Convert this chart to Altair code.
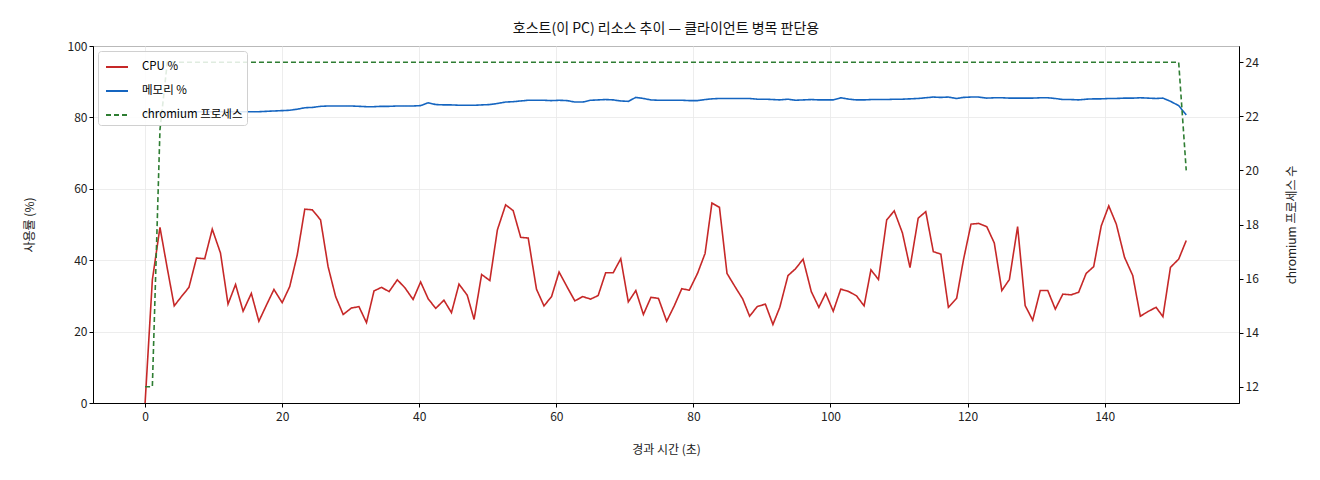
import altair as alt
import pandas as pd

T = [0, 1.06, 2.17, 3.24, 4.25, 5.3, 6.4, 7.5, 8.7, 9.8, 11.0, 12.1, 13.2, 14.3, 15.5, 16.6, 17.7, 18.8, 20.0,
     21.1, 22.2, 23.3, 24.4, 25.6, 26.7, 27.8, 28.9, 30.1, 31.2, 32.3, 33.4, 34.5, 35.6, 36.8, 37.9, 39.1, 40.2,
     41.3, 42.4, 43.6, 44.7, 45.8, 47.0, 48.0, 49.1, 50.3, 51.4, 52.6, 53.7, 54.8, 55.9, 57.1, 58.2, 59.3, 60.4,
     61.6, 62.7, 63.85, 65.0, 66.1, 67.2, 68.3, 69.4, 70.5, 71.6, 72.7, 73.8, 74.9, 76.1, 77.2, 78.3, 79.4, 80.6,
     81.7, 82.7, 83.8, 84.9, 86.0, 87.2, 88.2, 89.3, 90.5, 91.6, 92.6, 93.8, 94.9, 96.0, 97.2, 98.3, 99.3, 100.4,
     101.5, 102.7, 103.8, 104.9, 105.9, 107.0, 108.2, 109.3, 110.5, 111.6, 112.8, 113.9, 115.0, 116.1, 117.2,
     118.4, 119.4, 120.5, 121.6, 122.8, 123.9, 125.0, 126.1, 127.3, 128.4, 129.5, 130.6, 131.7, 132.8, 133.9,
     135.1, 136.2, 137.3, 138.4, 139.5, 140.6, 141.7, 142.9, 144.1, 145.2, 146.3, 147.5, 148.5, 149.6, 150.8, 151.9]

CPU = [0.0, 34.5, 49.2, 37.7, 27.2, 29.8, 32.4, 40.6, 40.4, 48.7, 42.0, 27.7, 33.2, 25.7, 30.7, 22.9, 27.4, 31.8, 28.1,
       32.6, 41.5, 54.3, 54.1, 51.3, 38.2, 29.8, 24.8, 26.6, 27.0, 22.5, 31.4, 32.4, 31.2, 34.5, 32.3, 29.0, 33.9,
       29.2, 26.5, 28.8, 25.3, 33.3, 30.2, 23.4, 36.0, 34.3, 48.5, 55.5, 53.9, 46.4, 46.2, 31.9, 27.2, 29.8, 36.7,
       32.4, 28.6, 29.8, 29.1, 30.1, 36.5, 36.5, 40.4, 28.3, 31.5, 24.8, 29.6, 29.3, 22.9, 27.2, 32.0, 31.6, 36.3,
       41.9, 56.0, 54.8, 36.3, 32.8, 29.1, 24.3, 27.0, 27.7, 22.0, 26.8, 35.7, 37.6, 40.3, 31.2, 26.8, 30.7, 25.7,
       31.9, 31.2, 30.0, 27.2, 37.3, 34.6, 51.3, 53.8, 47.6, 37.9, 51.8, 53.6, 42.4, 41.7, 26.8,
       29.3, 40.1, 50.1, 50.3, 49.4, 44.8, 31.5, 34.6, 49.4, 27.3, 23.2, 31.5, 31.5, 26.3, 30.5,
       30.3, 31.0, 36.3, 38.2, 49.6, 55.2, 50.1, 40.8, 35.7, 24.3, 25.6, 26.8, 24.2, 38.0, 40.3, 45.5]

MEM = [81.2, 81.3, 81.4, 81.5, 81.5, 81.5, 81.6, 81.6, 81.6, 81.6, 81.6, 81.6, 81.6, 81.6, 81.6, 81.6, 81.7, 81.8, 81.9,
       82.0, 82.3, 82.7, 82.8, 83.1, 83.2, 83.2, 83.2, 83.2, 83.1, 83.0, 83.0, 83.1, 83.1, 83.2, 83.2, 83.2, 83.3,
       84.1, 83.6, 83.5, 83.5, 83.4, 83.4, 83.4, 83.5, 83.6, 83.9, 84.3, 84.4, 84.6, 84.8, 84.8, 84.8, 84.7, 84.8,
       84.7, 84.3, 84.3, 84.8, 84.9, 85.0, 84.9, 84.6, 84.5, 85.6, 85.3, 84.9, 84.8, 84.8, 84.8, 84.8, 84.7, 84.7,
       85.0, 85.2, 85.3, 85.3, 85.3, 85.3, 85.3, 85.1, 85.1, 85.0, 84.9, 85.1, 84.8, 84.9, 85.0, 84.9, 84.9, 84.9,
       85.5, 85.1, 84.9, 84.9, 85.0, 85.0, 85.0, 85.1, 85.1, 85.2, 85.3, 85.5, 85.7, 85.6, 85.7,
       85.3, 85.6, 85.7, 85.7, 85.4, 85.5, 85.5, 85.4, 85.4, 85.4, 85.4, 85.5, 85.5, 85.3, 85.0,
       85.0, 84.9, 85.1, 85.2, 85.2, 85.3, 85.3, 85.4, 85.4, 85.5, 85.4, 85.3, 85.4, 84.5, 83.3, 80.7]

PROC = [12, 12, 21.5] + [24] * 133 + [20]

SERIES = ["CPU %", "메모리 %", "chromium 프로세스"]
COLORS = ["#c62828", "#1565c0", "#2e7d32"]
DASHES = [[1, 0], [1, 0], [5, 3]]

left_df = pd.concat([
    pd.DataFrame({"t": T, "value": CPU, "series": SERIES[0]}),
    pd.DataFrame({"t": T, "value": MEM, "series": SERIES[1]}),
])
right_df = pd.DataFrame({"t": T, "proc": PROC, "series": SERIES[2]})

FONT = "Noto Sans CJK KR"

xenc = alt.X("t:Q", scale=alt.Scale(domain=[-7.6, 159.6], nice=False, zero=False),
             axis=alt.Axis(title="경과 시간 (초)", values=[0, 20, 40, 60, 80, 100, 120, 140], grid=True,
                           format="d", labelPadding=4, titlePadding=22))
color = alt.Color("series:N", scale=alt.Scale(domain=SERIES, range=COLORS),
                  legend=alt.Legend(title=None, orient="top-left", offset=5, symbolType="stroke",
                                    symbolSize=484, symbolStrokeWidth=1.8, symbolOffset=3,
                                    labelFontSize=11.5, labelFont=FONT, labelOffset=13, rowPadding=6,
                                    padding=4, fillColor="rgba(255,255,255,0.85)", strokeColor="#d0d0d0",
                                    cornerRadius=3))
dash = alt.StrokeDash("series:N", scale=alt.Scale(domain=SERIES, range=DASHES), legend=alt.Legend(title=None))

left = alt.Chart(left_df).mark_line(strokeWidth=1.6).encode(
    x=xenc,
    y=alt.Y("value:Q", scale=alt.Scale(domain=[0, 100], nice=False),
            axis=alt.Axis(title="사용률 (%)", values=[0, 20, 40, 60, 80, 100], grid=True, titlePadding=31)),
    color=color,
    strokeDash=dash,
    order=alt.Order("t:Q"),
)

right = alt.Chart(right_df).mark_line(strokeWidth=1.6).encode(
    x=xenc,
    y=alt.Y("proc:Q", scale=alt.Scale(domain=[11.4, 24.6], nice=False, zero=False),
            axis=alt.Axis(title="chromium 프로세스 수", orient="right", values=[12, 14, 16, 18, 20, 22, 24],
                          grid=False, titleAngle=270, titleBaseline="bottom", titlePadding=40)),
    color=color,
    strokeDash=dash,
    order=alt.Order("t:Q"),
)

chart = alt.layer(left, right).resolve_scale(y="independent").properties(
    width=1146, height=357,
    title=alt.TitleParams("호스트(이 PC) 리소스 추이 — 클라이언트 병목 판단용", font=FONT, fontSize=14,
                          fontWeight="normal", anchor="middle", offset=4, color="#111"),
    padding={"left": 85, "top": 38, "right": 70, "bottom": 70},
    autosize=alt.AutoSizeParams(type="none"),
).configure_view(stroke="black", strokeWidth=1).configure_axis(
    domainColor="black", tickColor="black", tickSize=4, labelFont=FONT, titleFont=FONT,
    labelFontSize=12, titleFontSize=12, titleFontWeight="normal", labelColor="#222", titleColor="#222",
    gridColor="#e8e8e8", gridWidth=0.8,
)

chart.save("out.html", embed_options={"renderer": "svg", "actions": False})
